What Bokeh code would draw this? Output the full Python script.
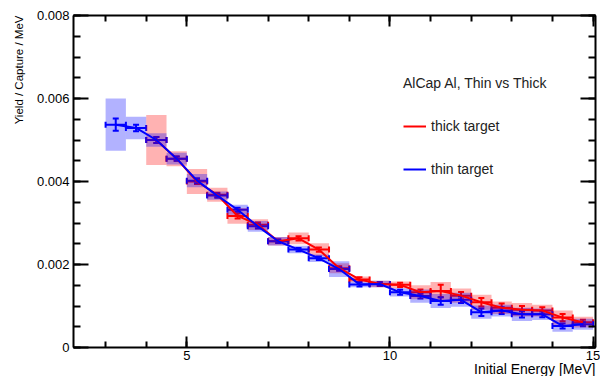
from bokeh.plotting import figure
from bokeh.models import (ColumnDataSource, Whisker, TeeHead, Legend, LegendItem, Title,
                          LinearAxis, FixedTicker, CustomJSTickFormatter, Range1d)
from bokeh.embed import file_html
from bokeh.resources import INLINE

# ---------------- data ----------------
bin_width = 0.5

thin_energy = [3.25, 3.75, 4.25, 4.75, 5.25, 5.75, 6.25, 6.75, 7.25, 7.75, 8.25, 8.75,
               9.25, 9.75, 10.25, 10.75, 11.25, 11.75, 12.25, 12.75, 13.25, 13.75, 14.25, 14.75]
thin_yield = [0.00537, 0.00529, 0.00500, 0.00455, 0.00402, 0.00366, 0.00332, 0.00292,
              0.00256, 0.00236, 0.00215, 0.00189, 0.00152, 0.00153, 0.00133, 0.00124,
              0.00112, 0.00115, 0.00085, 0.00089, 0.00080, 0.00080, 0.00052, 0.00056]
thin_stat = [0.00015, 0.00008, 0.00007, 0.00005, 0.00006, 0.00005, 0.00005, 0.00005,
             0.00004, 0.00004, 0.00004, 0.00004, 0.00005, 0.00004, 0.00006, 0.00006,
             0.00009, 0.00008, 0.00009, 0.00008, 0.00008, 0.00007, 0.00006, 0.00005]
thin_syst = [0.00063, 0.00027, 0.00016, 0.00014, 0.00016, 0.00010, 0.00012, 0.00013,
             0.00010, 0.00009, 0.00009, 0.00019, 0.00007, 0.00008, 0.00010, 0.00016,
             0.00017, 0.00017, 0.00016, 0.00014, 0.00016, 0.00014, 0.00014, 0.00013]

thick_energy = [4.25, 4.75, 5.25, 5.75, 6.25, 6.75, 7.25, 7.75, 8.25, 8.75, 9.25,
                9.75, 10.25, 10.75, 11.25, 11.75, 12.25, 12.75, 13.25, 13.75, 14.25, 14.75]
thick_yield = [0.00500, 0.00455, 0.00400, 0.00368, 0.00317, 0.00296, 0.00256, 0.00263,
               0.00236, 0.00191, 0.00164, 0.00153, 0.00151, 0.00133, 0.00136, 0.00125,
               0.00109, 0.00096, 0.00091, 0.00089, 0.00072, 0.00061]
thick_stat = [0.00007, 0.00005, 0.00006, 0.00005, 0.00006, 0.00005, 0.00004, 0.00005,
              0.00005, 0.00005, 0.00005, 0.00005, 0.00005, 0.00007, 0.00015, 0.00009,
              0.00010, 0.00010, 0.00009, 0.00008, 0.00009, 0.00006]
thick_syst = [0.00060, 0.00018, 0.00030, 0.00017, 0.00019, 0.00013, 0.00010, 0.00014,
              0.00015, 0.00012, 0.00007, 0.00008, 0.00008, 0.00017, 0.00022, 0.00017,
              0.00018, 0.00015, 0.00016, 0.00014, 0.00017, 0.00013]

x_major = [5, 10, 15]
x_minor = [3, 4, 5, 6, 7, 8, 9, 10, 11, 12, 13, 14, 15]
y_major = [0, 0.002, 0.004, 0.006, 0.008]
y_minor = [0.0005 * i for i in range(17)]

x_title = "Initial Energy [MeV]"
y_title = "Yield / Capture / MeV"
legend_title = "AlCap Al, Thin vs Thick"
thick_label = "thick target"
thin_label = "thin target"

FONT = "Liberation Sans"
X_START, X_END = 2.21, 15.06
Y_START, Y_END = 0, 0.008


def make_source(energy, y, stat, syst):
    return ColumnDataSource(dict(
        x=energy, y=y,
        left=[e - bin_width / 2 for e in energy],
        right=[e + bin_width / 2 for e in energy],
        slo=[a - b for a, b in zip(y, syst)],
        shi=[a + b for a, b in zip(y, syst)],
        elo=[a - b for a, b in zip(y, stat)],
        ehi=[a + b for a, b in zip(y, stat)],
    ))


thick_src = make_source(thick_energy, thick_yield, thick_stat, thick_syst)
thin_src = make_source(thin_energy, thin_yield, thin_stat, thin_syst)

p = figure(width=600, height=376, output_backend="svg", toolbar_location=None,
           x_range=Range1d(X_START, X_END), y_range=Range1d(Y_START, Y_END),
           min_border_left=73, min_border_right=5, min_border_top=15, min_border_bottom=29)
p.xgrid.visible = False
p.ygrid.visible = False
p.outline_line_color = "black"
p.outline_line_width = 1
p.background_fill_color = "white"
p.border_fill_color = "white"

RED = "#ff0000"
BLUE = "#0000ff"

# systematic boxes
p.quad(left="left", right="right", bottom="slo", top="shi", source=thick_src,
       fill_color=RED, fill_alpha=0.3, line_color=None)
p.quad(left="left", right="right", bottom="slo", top="shi", source=thin_src,
       fill_color=BLUE, fill_alpha=0.3, line_color=None)


def draw_series(src, color):
    ln = p.line("x", "y", source=src, line_color=color, line_width=2)
    p.add_layout(Whisker(source=src, base="x", lower="elo", upper="ehi", dimension="height",
                         line_color=color, line_width=2,
                         upper_head=TeeHead(size=6, line_color=color, line_width=2),
                         lower_head=TeeHead(size=6, line_color=color, line_width=2)))
    p.add_layout(Whisker(source=src, base="y", lower="left", upper="right", dimension="width",
                         line_color=color, line_width=2,
                         upper_head=TeeHead(size=6, line_color=color, line_width=2),
                         lower_head=TeeHead(size=6, line_color=color, line_width=2)))
    return ln


red_line = draw_series(thick_src, RED)
blue_line = draw_series(thin_src, BLUE)

# axes
xax = p.xaxis[0]
yax = p.yaxis[0]
xax.ticker = FixedTicker(ticks=x_major, minor_ticks=x_minor)
yax.ticker = FixedTicker(ticks=y_major, minor_ticks=y_minor)
yax.formatter = CustomJSTickFormatter(code="return tick == 0 ? '0' : tick.toFixed(3);")

top = LinearAxis(ticker=FixedTicker(ticks=x_major, minor_ticks=x_minor),
                 formatter=CustomJSTickFormatter(code="return '';"))
right = LinearAxis(ticker=FixedTicker(ticks=y_major, minor_ticks=y_minor),
                   formatter=CustomJSTickFormatter(code="return '';"))
p.add_layout(top, "above")
p.add_layout(right, "right")

for ax, (maj, mnr) in ((xax, (11, 6)), (top, (11, 6)), (yax, (15, 7)), (right, (15, 7))):
    ax.axis_line_width = 2
    ax.axis_line_color = "black"
    ax.major_tick_in = maj
    ax.major_tick_out = 0
    ax.minor_tick_in = mnr
    ax.minor_tick_out = 0
    ax.major_tick_line_width = 2
    ax.minor_tick_line_width = 2
    ax.major_label_text_font = FONT
    ax.major_label_text_font_size = "13px"
    ax.major_label_text_color = "black"

for ax in (top, right):
    ax.major_label_text_font_size = "1px"
    ax.major_label_standoff = 0

xax.major_label_standoff = 3
yax.major_label_standoff = 4

# axis titles aligned to the axis ends, as in the reference
p.add_layout(Title(text=x_title, align="right", text_font=FONT, text_font_size="14px",
                   text_font_style="normal", text_color="black", standoff=-8), "below")
p.add_layout(Title(text=y_title, align="right", text_font=FONT, text_font_size="11.5px",
                   text_font_style="normal", text_color="black", standoff=17), "left")

legend = Legend(items=[LegendItem(label=thick_label, renderers=[red_line]),
                       LegendItem(label=thin_label, renderers=[blue_line])],
                title=legend_title, location=(330, 168),
                title_text_font=FONT, title_text_font_size="14px", title_text_font_style="normal",
                title_text_color="#222222", title_standoff=25,
                label_text_font=FONT, label_text_font_size="14px", label_text_color="#222222",
                glyph_width=23, glyph_height=20, label_height=20, label_standoff=5,
                spacing=23, padding=0, margin=0,
                border_line_color=None, background_fill_alpha=0)
p.add_layout(legend)

open("out.html", "w").write(file_html(p, INLINE))
